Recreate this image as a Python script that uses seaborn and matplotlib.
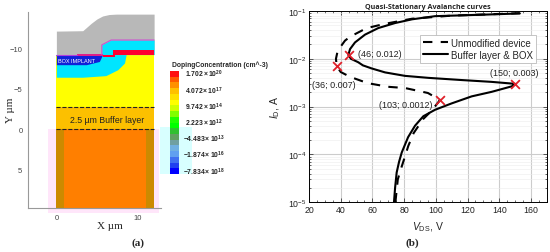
import numpy as np
import pandas as pd
import seaborn as sns
from matplotlib import pyplot as plt
from matplotlib.colors import ListedColormap
from matplotlib.ticker import LogLocator, NullFormatter

sns.set_style("white")
plt.rcParams["font.family"] = ["Liberation Sans", "DejaVu Sans"]
plt.rcParams["mathtext.default"] = "regular"
plt.rcParams["mathtext.fontset"] = "custom"
plt.rcParams["mathtext.rm"] = "Liberation Sans"
plt.rcParams["mathtext.it"] = "Liberation Sans:italic"

W, H = 550, 253

# curves
solid_v = [73.6, 74.3, 75.3, 76.8, 78.5, 82.5, 86.9, 92.1, 99.5, 110, 122.6, 135.2, 147.9, 150,
           135, 116.3, 95.3, 80.6, 74, 68, 59.5, 54, 51, 46.5, 44.8, 45.9, 49, 55.3, 63.7, 74.3, 85, 99.5, 131, 153]
solid_i = [1e-5, 2e-5, 4.2e-5, 7e-5, 1.1e-4, 2.3e-4, 4e-4, 6.3e-4, 8.6e-4, 1.17e-3, 1.64e-3, 2.04e-3, 2.66e-3, 3e-3,
           3.3e-3, 3.6e-3, 4e-3, 4.4e-3, 4.8e-3, 5.2e-3, 6.3e-3, 7.3e-3, 8.5e-3, 1e-2, 1.2e-2, 1.6e-2, 2.2e-2, 3.2e-2,
           4.4e-2, 5.6e-2, 6.7e-2, 7.8e-2, 8.4e-2, 8.9e-2]
dash_v = [74.5, 76, 78, 80, 82.6, 86, 92, 97, 102.7, 95, 80.6, 70, 57, 45.9, 40, 37.5, 37, 38.1, 42.7, 45.9, 56.4,
          68, 85, 110, 153]
dash_i = [1e-5, 3e-5, 5e-5, 8e-5, 1.5e-4, 2.8e-4, 5.5e-4, 8e-4, 1.38e-3, 1.93e-3, 2.45e-3, 2.6e-3, 3.1e-3, 4.2e-3,
          5.3e-3, 7e-3, 1e-2, 1.48e-2, 2.4e-2, 2.9e-2, 4.4e-2, 5.4e-2, 6.9e-2, 8e-2, 9e-2]
mark_v = [37.5, 45, 102.7, 150]
mark_i = [0.007, 0.0118, 0.00138, 0.003]
mark_labels = ["(36; 0.007)", "(46; 0.012)", "(103; 0.0012)", "(150; 0.003)"]
mark_text_v = [22, 51, 64, 134]
mark_text_i = [0.00297, 0.0132, 0.00113, 0.0053]

# colour scale of panel (a)
cbar_labels = ["$1.702 \\times 10^{20}$", "$4.072 \\times 10^{17}$", "$9.742 \\times 10^{14}$",
               "$2.223 \\times 10^{12}$", "$-4.483 \\times 10^{13}$", "$-1.874 \\times 10^{16}$",
               "$-7.834 \\times 10^{18}$"]
cbar_colors = ["#ff1010", "#ff5a00", "#ff9000", "#ffc000", "#ffe000", "#ffff00", "#d0ff00", "#80ff00",
               "#20ff00", "#00ff00", "#30c030", "#60a060", "#70a0a0", "#70b0e0", "#60a0f0", "#4070f0",
               "#2040f0", "#0000ff"]

# regions of the device in panel (a), in um
top_x = [0, 3.25, 4.3, 5, 5.7, 6.5, 7.4, 12.05]
top_y = [-12.1, -12.15, -13.07, -13.6, -13.97, -14.15, -14.2, -14.2]
box_x = [0, 3.25, 6.1, 7.57, 8.4, 8.6]
box_low = [-6.4, -6.4, -6.6, -7.33, -8.16, -9.2]
blue_x = [0, 3.7, 5.3, 5.7]
blue_low = [-7.95, -7.95, -8.35, -9.2]
ox_x = [5.6, 5.6, 6.75, 12.05]
ox_top = [-9.2, -10.4, -11, -11]


def to_fig(x0, y0, x1, y1):
    return [x0 / W, 1 - y1 / H, (x1 - x0) / W, (y1 - y0) / H]


fig = plt.figure(figsize=(5.5, 2.53), dpi=100, facecolor="white")

# light cyan patch behind the colour bar
bg = fig.add_axes(to_fig(160, 128, 192, 175))
bg.set_facecolor("#d8ffff")
bg.set_xticks([])
bg.set_yticks([])
sns.despine(ax=bg, left=True, bottom=True)

# (a)
ax = fig.add_axes(to_fig(28, 12.7, 161, 209.3))
ax.patch.set_alpha(0)
ax.set_xlim(-3.5, 12.9)
ax.set_ylim(9.8, -14.5)
ax.fill_between([-1, 12.7], 0, 10.4, color="#ffe6fa", lw=0, clip_on=False)
ax.fill_between([0, 12.05], 0, 9.8, color="#ff7f00", lw=0)
ax.fill_between([0, 0.9], 0, 9.8, color="#cc8a00", lw=0)
ax.fill_between([11.1, 12.05], 0, 9.8, color="#cc8a00", lw=0)
ax.fill_between([0, 12.05], -2.7, 0, color="#fcc000", lw=0)
ax.fill_between([0, 12.05], -9.2, -2.7, color="#ffff00", lw=0)
ax.fill_between(top_x, -9.2, top_y, color="#b8b8b8", lw=0)
ax.fill_between(box_x, box_low, -9.2, color="#00e5ff", lw=0)
ax.fill_between(blue_x, blue_low, -9.2, color="#1020d8", lw=0)
ax.fill_between(ox_x, -9.2, ox_top, color="#00e5ff", lw=0)
ax.plot(ox_x, ox_top, color="#d050d0", lw=0.8)
ax.fill_between([6.95, 12.05], -9.8, -9.2, color="#ff0030", lw=0)
ax.fill_between([5.7, 7.2], -9.2, -8.9, color="#ff0030", lw=0)
ax.fill_between([2.5, 5.7], -9.3, -9.05, color="#e0208a", lw=0)
ax.plot([0, 2.5], [-9.2, -9.2], color="#b040e0", lw=0.8)
ax.plot([0, 12.05], [-2.7, -2.7], color="#222222", lw=0.8, ls="--")
ax.plot([0, 12.05], [0, 0], color="#222222", lw=0.8, ls="--")
ax.text(0.2, -8.5, "BOX IMPLANT", color="white", fontsize=4, va="center")
ax.text(6.2, -1.2, "2.5 µm Buffer layer", color="#222222", fontsize=6.3, ha="center", va="center")
ax.set_xticks([0, 10])
ax.set_yticks([-10, -5, 0, 5])
ax.set_yticklabels(["\u221210", "\u22125", "0", "5"])
ax.tick_params(labelsize=5.5, length=2, width=0.6, pad=2, colors="#444444")
ax.set_xlabel("X µm", family="Liberation Serif", fontsize=8)
ax.set_ylabel("Y µm", family="Liberation Serif", fontsize=8)
ax.xaxis.set_label_coords(0.617, -0.065)
ax.yaxis.set_label_coords(-0.1, 0.505)
sns.despine(ax=ax)
for s in ["left", "bottom"]:
    ax.spines[s].set_color("#999999")
    ax.spines[s].set_linewidth(0.8)

# colour bar
cax = fig.add_axes(to_fig(169.5, 72, 179, 175))
sns.heatmap(np.arange(len(cbar_colors)).reshape(-1, 1), cmap=ListedColormap(cbar_colors), cbar=False,
            xticklabels=False, yticklabels=False, ax=cax)
fig.text(172 / W, 1 - 65 / H, "DopingConcentration (cm^-3)", fontsize=4.9, fontweight="bold", va="center")
for lab, y_pix in zip(cbar_labels, [74, 91, 107, 123, 139, 155, 172]):
    fig.text(185 / W if not lab.startswith("$-") else 183 / W, 1 - y_pix / H, lab, fontsize=4.9,
             fontweight="bold", va="center", color="#222222")

fig.text(138 / W, 1 - 243 / H, "(a)", family="Liberation Serif", fontsize=8, fontweight="bold", ha="center", va="center")

# (b)
ax2 = fig.add_axes(to_fig(309, 12, 546.8, 203.3))
ax2.set_yscale("log")
sns.lineplot(data=pd.DataFrame({"v": dash_v, "i": dash_i}), x="v", y="i", sort=False, estimator=None,
             color="black", lw=1.5, ax=ax2, label="Unmodified device", dashes=(4.5, 4))
sns.lineplot(data=pd.DataFrame({"v": solid_v, "i": solid_i}), x="v", y="i", sort=False, estimator=None,
             color="black", lw=1.5, ax=ax2, label="Buffer layer & BOX")
sns.scatterplot(x=mark_v, y=mark_i, marker="x", color="#e0202a", s=40, linewidth=1.3, ax=ax2, zorder=5)
for lab, tx, ty in zip(mark_labels, mark_text_v, mark_text_i):
    ax2.text(tx, ty, lab, fontsize=6.5, color="#222222", va="center", ha="left")
ax2.set_xlim(20, 170)
ax2.set_ylim(1e-5, 1e-1)
ax2.set_xticks(range(20, 161, 20))
ax2.yaxis.set_major_locator(LogLocator(base=10, numticks=6))
ax2.yaxis.set_minor_locator(LogLocator(base=10, subs=np.arange(2, 10), numticks=6))
ax2.yaxis.set_minor_formatter(NullFormatter())
ax2.minorticks_on()
ax2.grid(True, which="major", color="#cccccc", lw=0.8)
ax2.grid(True, which="minor", axis="y", color="#ececec", lw=0.4)
ax2.grid(False, which="minor", axis="x")
ax2.tick_params(which="both", direction="in", top=True, right=True, left=True, bottom=True, width=0.5)
ax2.tick_params(which="major", length=3, labelsize=6.3, pad=2, colors="#222222")
ax2.tick_params(which="minor", length=1.5)
ax2.set_xlabel("$\\mathit{V}_{DS}$, V", fontsize=7.5, labelpad=4)
ax2.set_ylabel("$\\mathit{I}_{D}$, A", fontsize=7.5)
ax2.yaxis.set_label_coords(-0.115, 0.5)
ax2.set_title("Quasi-Stationary Avalanche curves", fontsize=5.2, fontweight="bold", family="Open Sans", pad=2.5)
for s in ax2.spines.values():
    s.set_visible(True)
    s.set_color("black")
    s.set_linewidth(0.7)
leg = ax2.legend(loc="upper left", bbox_to_anchor=(0.467, 0.875), fontsize=7, frameon=True, fancybox=False,
                 framealpha=1, edgecolor="#bbbbbb", borderaxespad=0, borderpad=0.3, labelspacing=0.2,
                 handlelength=2.6, handletextpad=0.3)
leg.get_frame().set_linewidth(0.6)

fig.text(412 / W, 1 - 243 / H, "(b)", family="Liberation Serif", fontsize=8, fontweight="bold", ha="center", va="center")

fig.savefig("out.png", dpi=100)
